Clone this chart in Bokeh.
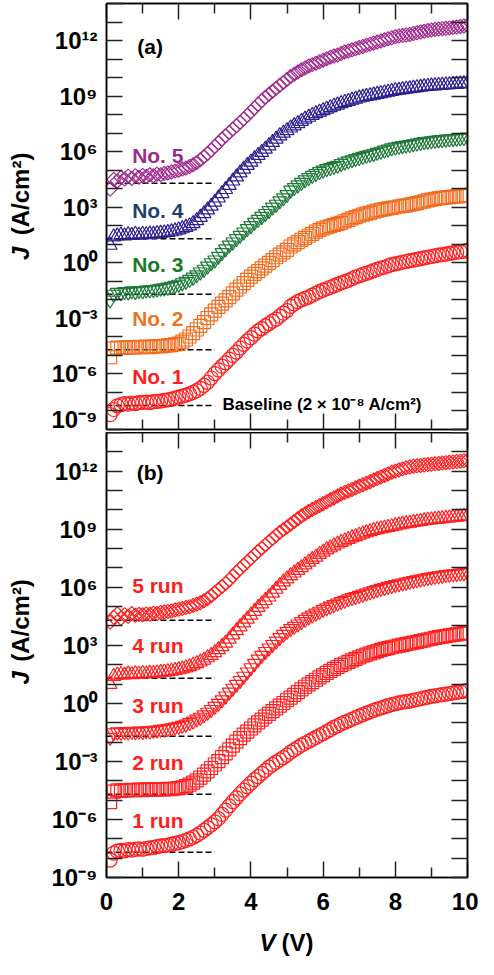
import math
from bokeh.plotting import figure
from bokeh.models import (FixedTicker, CustomJSTickFormatter, LogAxis, LinearAxis,
                          Label, Range1d)
from bokeh.layouts import column, row
from bokeh.embed import file_html
from bokeh.resources import INLINE

# ---------------- data ----------------
# applied voltage sweep (V)
V = [round(0.1 * i, 1) for i in range(1, 101)]

# log10(J / A cm^-2), panel (a): samples No. 1 ... No. 5
logJ_no1 = [-8.20, -7.92, -7.72, -7.66, -7.60, -7.63, -7.57, -7.60, -7.55, -7.54,
            -7.52, -7.55, -7.50, -7.48, -7.47, -7.43, -7.40, -7.36, -7.30, -7.25,
            -7.20, -7.14, -7.08, -7.00, -6.90, -6.78, -6.62, -6.45, -6.22, -5.98,
            -5.78, -5.58, -5.40, -5.20, -5.00, -4.82, -4.60, -4.40, -4.22, -4.04,
            -3.85, -3.68, -3.55, -3.40, -3.28, -3.15, -3.04, -2.88, -2.72, -2.58,
            -2.35, -2.22, -2.10, -2.00, -1.92, -1.85, -1.75, -1.65, -1.56, -1.48,
            -1.40, -1.32, -1.25, -1.17, -1.08, -1.02, -0.95, -0.86, -0.77, -0.70,
            -0.63, -0.57, -0.50, -0.42, -0.36, -0.28, -0.24, -0.16, -0.10, -0.06,
            -0.02, 0.03, 0.07, 0.12, 0.14, 0.19, 0.23, 0.27, 0.30, 0.34,
            0.38, 0.41, 0.44, 0.47, 0.51, 0.54, 0.57, 0.60, 0.63, 0.67]
logJ_no2 = [-5.10, -4.62, -4.58, -4.60, -4.56, -4.58, -4.55, -4.57, -4.54, -4.55,
            -4.53, -4.55, -4.52, -4.50, -4.51, -4.48, -4.46, -4.44, -4.40, -4.36,
            -4.26, -4.14, -3.98, -3.80, -3.60, -3.40, -3.20, -2.98, -2.78, -2.58,
            -2.38, -2.20, -2.03, -1.85, -1.65, -1.45, -1.28, -1.10, -0.92, -0.75,
            -0.60, -0.45, -0.30, -0.15, 0.00, 0.15, 0.30, 0.44, 0.56, 0.70,
            0.88, 1.00, 1.12, 1.24, 1.35, 1.46, 1.56, 1.68, 1.78, 1.86,
            1.92, 1.98, 2.04, 2.10, 2.16, 2.24, 2.32, 2.40, 2.47, 2.54,
            2.60, 2.66, 2.70, 2.76, 2.82, 2.86, 2.90, 2.94, 2.97, 3.00,
            3.04, 3.07, 3.10, 3.14, 3.18, 3.22, 3.27, 3.32, 3.37, 3.41,
            3.45, 3.48, 3.51, 3.53, 3.55, 3.57, 3.59, 3.60, 3.62, 3.64]
logJ_no3 = [-2.02, -1.70, -1.60, -1.62, -1.56, -1.58, -1.52, -1.55, -1.50, -1.52,
            -1.48, -1.46, -1.45, -1.42, -1.38, -1.36, -1.32, -1.28, -1.22, -1.16,
            -1.08, -1.00, -0.90, -0.78, -0.65, -0.50, -0.35, -0.18, 0.00, 0.15,
            0.35, 0.55, 0.75, 0.95, 1.12, 1.30, 1.48, 1.66, 1.84, 2.00,
            2.18, 2.34, 2.50, 2.66, 2.82, 3.00, 3.16, 3.34, 3.50, 3.68,
            3.92, 4.06, 4.20, 4.34, 4.48, 4.60, 4.72, 4.82, 4.92, 5.00,
            5.08, 5.14, 5.20, 5.26, 5.36, 5.44, 5.50, 5.56, 5.62, 5.68,
            5.74, 5.80, 5.86, 5.90, 5.96, 6.02, 6.08, 6.14, 6.20, 6.24,
            6.28, 6.32, 6.35, 6.38, 6.42, 6.46, 6.50, 6.54, 6.56, 6.58,
            6.61, 6.63, 6.65, 6.67, 6.69, 6.71, 6.72, 6.74, 6.76, 6.78]
logJ_no4 = [0.95, 1.40, 1.45, 1.50, 1.46, 1.52, 1.48, 1.55, 1.50, 1.54,
            1.52, 1.56, 1.55, 1.58, 1.60, 1.62, 1.64, 1.68, 1.72, 1.78,
            1.84, 1.92, 2.00, 2.12, 2.28, 2.46, 2.66, 2.86, 3.06, 3.28,
            3.50, 3.74, 3.96, 4.18, 4.42, 4.64, 4.86, 5.06, 5.26, 5.44,
            5.62, 5.80, 5.96, 6.14, 6.32, 6.50, 6.68, 6.86, 7.00, 7.14,
            7.28, 7.40, 7.52, 7.64, 7.76, 7.86, 7.96, 8.06, 8.14, 8.22,
            8.30, 8.38, 8.46, 8.52, 8.60, 8.66, 8.72, 8.78, 8.84, 8.90,
            8.94, 8.98, 9.02, 9.06, 9.10, 9.14, 9.18, 9.22, 9.26, 9.30,
            9.32, 9.35, 9.38, 9.40, 9.43, 9.46, 9.48, 9.51, 9.53, 9.55,
            9.56, 9.58, 9.59, 9.61, 9.62, 9.63, 9.64, 9.66, 9.67, 9.69]
logJ_no5 = [3.98, 4.50, 4.42, 4.60, 4.52, 4.68, 4.55, 4.70, 4.62, 4.72,
            4.66, 4.75, 4.70, 4.78, 4.76, 4.82, 4.85, 4.90, 4.95, 5.00,
            5.06, 5.12, 5.20, 5.30, 5.42, 5.56, 5.72, 5.90, 6.08, 6.28,
            6.48, 6.68, 6.86, 7.04, 7.22, 7.40, 7.58, 7.76, 7.96, 8.16,
            8.36, 8.56, 8.76, 8.94, 9.10, 9.26, 9.42, 9.58, 9.74, 9.90,
            10.06, 10.18, 10.30, 10.42, 10.52, 10.62, 10.70, 10.78, 10.86, 10.94,
            11.02, 11.10, 11.16, 11.22, 11.30, 11.38, 11.44, 11.50, 11.56, 11.62,
            11.68, 11.74, 11.80, 11.86, 11.92, 11.98, 12.04, 12.10, 12.15, 12.20,
            12.24, 12.27, 12.30, 12.33, 12.38, 12.42, 12.46, 12.50, 12.54, 12.57,
            12.60, 12.62, 12.64, 12.66, 12.68, 12.70, 12.73, 12.76, 12.79, 12.82]

# log10(J), panel (b): 1 run ... 5 run
logJ_run1 = [-8.10, -7.74, -7.64, -7.60, -7.62, -7.56, -7.58, -7.55, -7.52, -7.54,
             -7.50, -7.47, -7.45, -7.40, -7.37, -7.35, -7.32, -7.28, -7.24, -7.20,
             -7.14, -7.08, -7.00, -6.92, -6.82, -6.70, -6.56, -6.42, -6.28, -6.12,
             -5.96, -5.74, -5.52, -5.30, -5.08, -4.88, -4.68, -4.48, -4.30, -4.12,
             -3.94, -3.78, -3.62, -3.46, -3.30, -3.16, -3.04, -2.92, -2.80, -2.68,
             -2.52, -2.40, -2.28, -2.16, -2.06, -1.96, -1.86, -1.76, -1.66, -1.56,
             -1.46, -1.36, -1.24, -1.16, -1.06, -0.98, -0.90, -0.82, -0.74, -0.66,
             -0.58, -0.50, -0.44, -0.36, -0.30, -0.24, -0.18, -0.12, -0.06, -0.02,
             0.03, 0.06, 0.09, 0.12, 0.16, 0.20, 0.24, 0.28, 0.32, 0.36,
             0.39, 0.42, 0.45, 0.48, 0.51, 0.54, 0.57, 0.60, 0.63, 0.66]
logJ_run2 = [-5.10, -4.56, -4.50, -4.52, -4.48, -4.50, -4.47, -4.49, -4.46, -4.48,
             -4.45, -4.47, -4.44, -4.46, -4.43, -4.45, -4.42, -4.44, -4.40, -4.38,
             -4.34, -4.28, -4.20, -4.10, -3.98, -3.84, -3.68, -3.52, -3.34, -3.16,
             -2.98, -2.78, -2.58, -2.38, -2.18, -1.98, -1.80, -1.62, -1.46, -1.30,
             -1.14, -0.98, -0.84, -0.68, -0.54, -0.40, -0.26, -0.12, 0.02, 0.16,
             0.30, 0.44, 0.58, 0.72, 0.86, 0.98, 1.10, 1.22, 1.34, 1.46,
             1.58, 1.68, 1.78, 1.88, 1.98, 2.06, 2.14, 2.22, 2.30, 2.38,
             2.46, 2.52, 2.58, 2.64, 2.70, 2.76, 2.82, 2.86, 2.90, 2.94,
             2.98, 3.02, 3.06, 3.10, 3.14, 3.18, 3.22, 3.26, 3.30, 3.34,
             3.38, 3.42, 3.45, 3.48, 3.51, 3.54, 3.57, 3.60, 3.63, 3.66]
logJ_run3 = [-1.76, -1.52, -1.48, -1.50, -1.46, -1.49, -1.45, -1.47, -1.44, -1.46,
             -1.42, -1.44, -1.40, -1.38, -1.35, -1.33, -1.30, -1.27, -1.23, -1.19,
             -1.14, -1.08, -1.00, -0.92, -0.82, -0.72, -0.60, -0.46, -0.32, -0.16,
             0.00, 0.18, 0.38, 0.58, 0.78, 0.98, 1.18, 1.40, 1.62, 1.84,
             2.06, 2.28, 2.48, 2.68, 2.86, 3.04, 3.22, 3.40, 3.56, 3.72,
             3.86, 3.98, 4.10, 4.22, 4.34, 4.46, 4.56, 4.66, 4.76, 4.86,
             4.94, 5.02, 5.10, 5.18, 5.26, 5.32, 5.40, 5.46, 5.52, 5.58,
             5.64, 5.70, 5.76, 5.82, 5.88, 5.94, 5.98, 6.04, 6.08, 6.14,
             6.18, 6.22, 6.26, 6.30, 6.34, 6.38, 6.42, 6.46, 6.50, 6.53,
             6.56, 6.59, 6.62, 6.65, 6.67, 6.69, 6.71, 6.73, 6.75, 6.77]
logJ_run4 = [0.98, 1.40, 1.46, 1.50, 1.47, 1.52, 1.49, 1.54, 1.51, 1.55,
             1.53, 1.56, 1.55, 1.58, 1.60, 1.62, 1.64, 1.67, 1.70, 1.74,
             1.78, 1.84, 1.90, 1.98, 2.06, 2.14, 2.24, 2.36, 2.48, 2.62,
             2.78, 2.94, 3.12, 3.32, 3.54, 3.76, 3.96, 4.16, 4.36, 4.56,
             4.76, 4.96, 5.14, 5.32, 5.50, 5.70, 5.90, 6.10, 6.28, 6.44,
             6.60, 6.74, 6.88, 7.02, 7.16, 7.30, 7.44, 7.56, 7.70, 7.82,
             7.94, 8.04, 8.14, 8.24, 8.32, 8.40, 8.48, 8.56, 8.62, 8.70,
             8.76, 8.82, 8.88, 8.94, 8.98, 9.02, 9.06, 9.10, 9.14, 9.18,
             9.22, 9.26, 9.29, 9.32, 9.35, 9.38, 9.41, 9.44, 9.47, 9.49,
             9.51, 9.53, 9.55, 9.57, 9.59, 9.61, 9.63, 9.65, 9.67, 9.70]
logJ_run5 = [4.20, 4.45, 4.62, 4.40, 4.58, 4.50, 4.64, 4.55, 4.60, 4.58,
             4.62, 4.60, 4.66, 4.64, 4.70, 4.72, 4.75, 4.78, 4.82, 4.86,
             4.90, 4.95, 5.00, 5.06, 5.12, 5.20, 5.30, 5.42, 5.56, 5.72,
             5.88, 6.04, 6.20, 6.38, 6.58, 6.78, 6.96, 7.14, 7.32, 7.50,
             7.68, 7.86, 8.02, 8.18, 8.36, 8.52, 8.68, 8.84, 8.98, 9.12,
             9.26, 9.40, 9.54, 9.68, 9.80, 9.92, 10.02, 10.12, 10.22, 10.32,
             10.42, 10.52, 10.62, 10.72, 10.82, 10.90, 10.98, 11.06, 11.14, 11.22,
             11.30, 11.38, 11.46, 11.54, 11.62, 11.70, 11.78, 11.86, 11.94, 12.00,
             12.06, 12.12, 12.18, 12.22, 12.26, 12.28, 12.30, 12.32, 12.34, 12.36,
             12.38, 12.40, 12.42, 12.44, 12.46, 12.48, 12.50, 12.52, 12.54, 12.56]

# baselines (A/cm^2), each offset by 10^3, drawn over 0-3 V
BASELINES = [2e-8, 2e-5, 2e-2, 2e1, 2e4]
BASE_V = [0.0, 3.0]

LABELS_A = ["No. 1", "No. 2", "No. 3", "No. 4", "No. 5"]
LABELS_B = ["1 run", "2 run", "3 run", "4 run", "5 run"]

X_MAJOR = [0, 2, 4, 6, 8, 10]
X_MINOR = [1, 3, 5, 7, 9]
Y_TICKS = [10.0 ** k for k in range(-9, 15)]

# ---------------- style ----------------
FONT = "Liberation Sans"
MARKERS = ["circle", "square", "inverted_triangle", "triangle", "square"]
ANGLES = [0, 0, 0, 0, math.pi / 4]
SIZES = [14, 13, 14, 14, 10]
COLORS_A = ["#FF1E1E", "#F26A1B", "#1F7A3A", "#2B2090", "#A02A8E"]
TEXT_A = ["#FF1E1E", "#EE7420", "#1C7A22", "#1F3F72", "#9A2C8C"]
RED = "#FF1E1E"

SUP_JS = """
const e = Math.round(Math.log10(tick));
if (e % 3 !== 0) { return ""; }
const sup = {"0":"\u2070","1":"\u00b9","2":"\u00b2","3":"\u00b3","4":"\u2074",
             "5":"\u2075","6":"\u2076","7":"\u2077","8":"\u2078","9":"\u2079","-":"\u207b"};
let s = "";
for (const ch of String(e)) { s += sup[ch]; }
return "10" + s;
"""

STRIP_W = 40          # width of the y-label strip
PANEL_W = 438         # width of each panel figure
H_A, H_B, H_X = 432, 491, 36


def style_axis(ax, labels):
    ax.axis_line_color = "black"
    ax.axis_line_width = 1.5
    ax.major_tick_line_color = "#222222"
    ax.minor_tick_line_color = "#222222"
    ax.major_tick_line_width = 1.5
    ax.minor_tick_line_width = 1.5
    ax.major_tick_in = 16
    ax.major_tick_out = 0
    ax.minor_tick_in = 10
    ax.minor_tick_out = 0
    if labels:
        ax.major_label_text_font = FONT
        ax.major_label_text_font_style = "bold"
        ax.major_label_text_font_size = "24px"
        ax.major_label_text_color = "black"
    else:
        ax.major_label_text_font_size = "0px"
        ax.major_label_standoff = 0
        ax.formatter = CustomJSTickFormatter(code='return "";')


def make_panel(height, top, bottom, x_labels):
    p = figure(width=PANEL_W, height=height,
               x_range=Range1d(0, 10), y_range=Range1d(1e-9, 1e14),
               y_axis_type="log", output_backend="svg", toolbar_location=None,
               min_border_left=66, min_border_right=11,
               min_border_top=top, min_border_bottom=bottom)
    p.grid.visible = False
    p.outline_line_color = "black"
    p.outline_line_width = 1.5
    p.background_fill_color = "white"
    p.border_fill_color = "white"

    ya = p.yaxis[0]
    ya.ticker = FixedTicker(ticks=Y_TICKS, minor_ticks=[])
    style_axis(ya, True)
    ya.formatter = CustomJSTickFormatter(code=SUP_JS)
    ya.major_label_standoff = 9

    xa = p.xaxis[0]
    xa.ticker = FixedTicker(ticks=X_MAJOR, minor_ticks=X_MINOR)
    style_axis(xa, x_labels)
    if x_labels:
        xa.major_label_standoff = 15

    ra = LogAxis(ticker=FixedTicker(ticks=Y_TICKS, minor_ticks=[]))
    style_axis(ra, False)
    p.add_layout(ra, "right")
    ta = LinearAxis(ticker=FixedTicker(ticks=X_MAJOR, minor_ticks=X_MINOR))
    style_axis(ta, False)
    p.add_layout(ta, "above")

    for b in BASELINES:
        p.line(BASE_V, [b, b], line_color="black", line_width=1.5, line_dash="6 3")
    return p


def make_strip(w, h):
    s = figure(width=w, height=h, x_range=Range1d(0, w), y_range=Range1d(0, h),
               output_backend="svg", toolbar_location=None, min_border=0,
               x_axis_location=None, y_axis_location=None)
    s.grid.visible = False
    s.outline_line_color = None
    s.background_fill_color = "white"
    s.border_fill_color = "white"
    return s


def add_series(p, logs, colors):
    for logJ, mk, ang, sz, col in zip(logs, MARKERS, ANGLES, SIZES, colors):
        J = [10.0 ** v for v in logJ]
        p.scatter(V, J, marker=mk, angle=ang, size=sz, fill_color=None,
                  line_color=col, line_width=1.2)


def text(p, x, y, s, color="black", size="21px", align="left", style="bold", angle=0.0):
    p.add_layout(Label(x=x, y=y, text=s, text_color=color,
                       text_font=FONT, text_font_style=style, text_font_size=size,
                       text_align=align, text_baseline="middle", angle=angle))


# ---------------- panel (a) ----------------
pa = make_panel(H_A, 3, 3, False)
add_series(pa, [logJ_no1, logJ_no2, logJ_no3, logJ_no4, logJ_no5], COLORS_A)
text(pa, 1.21, 10 ** 11.68, "(a)", align="center")
for lab, col, yl in zip(LABELS_A, TEXT_A, [-6.14, -3.0, -0.09, 2.83, 5.79]):
    text(pa, 0.71, 10 ** yl, lab, color=col)
text(pa, 3.21, 10 ** -7.65, "Baseline (2 \u00d7 10\u207b\u2078  A/cm\u00b2)", size="17px")

sa = make_strip(STRIP_W, H_A)
text(sa, 19.5, 172, "J", size="24px", style="bold italic", angle=math.pi / 2)
text(sa, 19.5, 197, "(A/cm\u00b2)", size="24px", angle=math.pi / 2)

# ---------------- panel (b) ----------------
pb = make_panel(H_B, 0, 46, True)
add_series(pb, [logJ_run1, logJ_run2, logJ_run3, logJ_run4, logJ_run5], [RED] * 5)
text(pb, 1.21, 10 ** 11.93, "(b)", align="center")
for lab, yl in zip(LABELS_B, [-6.05, -3.06, -0.11, 2.99, 6.09]):
    text(pb, 0.71, 10 ** yl, lab, color=RED)

sb = make_strip(STRIP_W, H_B)
text(sb, 19.5, 213, "J", size="24px", style="bold italic", angle=math.pi / 2)
text(sb, 19.5, 238, "(A/cm\u00b2)", size="24px", angle=math.pi / 2)

# ---------------- x label strip ----------------
sx = make_strip(STRIP_W + PANEL_W, H_X)
text(sx, 259, 17, "V", size="24px", style="bold italic")
text(sx, 281, 17, "(V)", size="24px")

layout = column(row(sa, pa), row(sb, pb), sx)
with open("out.html", "w", encoding="utf-8") as f:
    f.write(file_html(layout, INLINE))
